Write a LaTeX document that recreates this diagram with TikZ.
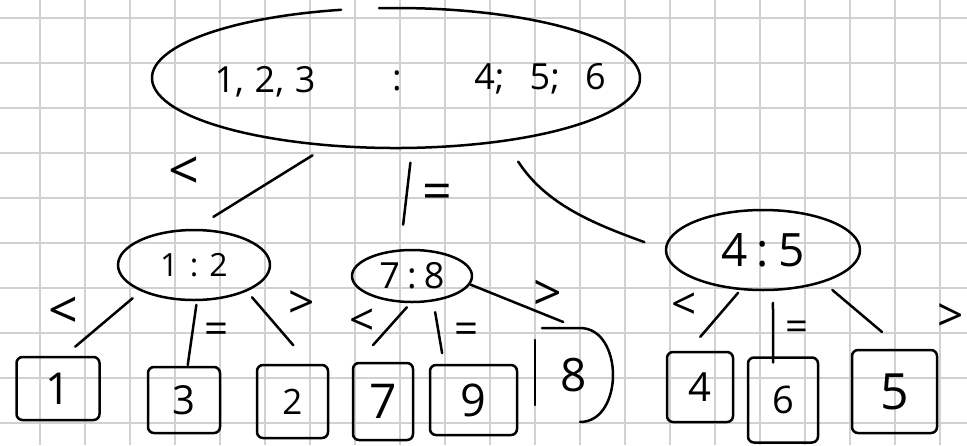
\documentclass[tikz,border=0pt]{standalone}
\usepackage{fontspec}
\setmainfont{Open Sans}
\usetikzlibrary{shapes.geometric,calc}
\newcommand{\fsz}[1]{\fontsize{#1pt}{#1pt}\selectfont}
\begin{document}
\begin{tikzpicture}[x=1pt,y=-1pt,
  gridline/.style={draw=black!18, line width=1.5pt},
  ink/.style={line width=2.5pt, black, line cap=round, line join=round},
  oval/.style={ellipse, inner sep=0pt, outer sep=0pt},
  leaf/.style={rectangle, draw, ink, rounded corners=6pt, inner sep=0pt, outer sep=0pt},
  lbl/.style={inner sep=0pt, outer sep=0pt},
  conn/.style={ink}
]
\useasboundingbox (0,0) rectangle (967,445);
\clip (0,0) rectangle (967,445);
\fill[white] (0,0) rectangle (967,445);
% grid paper
\foreach \gx in {40,85,...,940} \draw[gridline] (\gx,0) -- (\gx,445);
\foreach \gy in {18,63,...,423} \draw[gridline] (0,\gy) -- (967,\gy);

% root
\node[oval, minimum width=488pt, minimum height=140pt] (root) at (396,78) {};
\draw[ink] ($(root.center)+(103:244pt and 70pt)$) arc[start angle=103, end angle=454, x radius=244pt, y radius=70pt];
\node[lbl, anchor=base, font=\fsz{36}] (rootA) at (265,92) {1,\hspace{0.3em}2,\hspace{0.3em}3};
\node[lbl, anchor=base, font=\fsz{36}] (rootB) at (397,90) {:};
\node[lbl, anchor=base, font=\fsz{36}] (rootC) at (540,89) {4;\hspace{0.7em}5;\hspace{0.7em}6};

% second level
\node[oval, draw, ink, minimum width=152pt, minimum height=70pt, font=\fsz{32}] (n12) at (194,265) {1\hspace{0.35em}:\hspace{0.35em}2};
\node[oval, draw, ink, minimum width=120pt, minimum height=52pt, font=\fsz{36}] (n78) at (412,276) {7\hspace{0.2em}:\hspace{0.2em}8};
\node[oval, draw, ink, minimum width=194pt, minimum height=80pt, font=\fsz{46}] (n45) at (763,250) {4\hspace{0.2em}:\hspace{0.2em}5};

% leaves
\node[leaf, minimum width=83pt, minimum height=63pt, font=\fsz{44}] (b1) at (58,388.5) {1};
\node[leaf, minimum width=72pt, minimum height=66pt, font=\fsz{40}] (b3) at (184,400) {3};
\node[leaf, minimum width=71pt, minimum height=73pt, font=\fsz{35}] (b2) at (292.5,401.5) {2};
\node[leaf, minimum width=60pt, minimum height=77pt, font=\fsz{48}] (b7) at (383,401.5) {7};
\node[leaf, minimum width=87pt, minimum height=70pt, font=\fsz{45}] (b9) at (473.5,400) {9};
\node[lbl, minimum width=78pt, minimum height=94pt, font=\fsz{46}] (b8) at (574,375) {8};
\draw[ink] ([yshift=-12pt]b8.north west) -- ([yshift=17pt]b8.south west);
\draw[ink] ([xshift=7pt]b8.north west) -- ([xshift=-33pt]b8.north east) to[out=0,in=90] (b8.east) to[out=-90,in=0] ([xshift=-33pt]b8.south east);
\node[leaf, minimum width=66pt, minimum height=70pt, font=\fsz{40}] (b4) at (700,387) {4};
\node[leaf, minimum width=70pt, minimum height=85pt, font=\fsz{38}] (b6) at (783,400) {6};
\node[leaf, minimum width=85pt, minimum height=83pt, font=\fsz{50}] (b5) at (894.5,391.5) {5};

% connectors
\draw[conn, shorten <=19pt, shorten >=25pt] (root.225) -- (n12.93);
\draw[conn, shorten <=15pt, shorten >=26pt] (root.-77) -- (n78.115);
\draw[conn, shorten <=25pt, shorten >=23pt] (root.-30) to[out=-57,in=160] (n45.west);
\draw[conn, shorten <=12pt, shorten >=16pt] (n12.206) -- (b1.81);
\draw[conn, shorten <=5pt, shorten >=2pt] (n12.-85) -- (b3.84);
\draw[conn, shorten <=9pt, shorten >=26pt] (n12.-26) -- (b2.64);
\draw[conn, shorten <=7pt, shorten >=24pt] (n78.-91) -- (b7.124);
\draw[conn, shorten <=12pt, shorten >=12pt] (n78.-49) -- (b9.130);
\draw[conn, shorten <=1pt, shorten >=16pt] (n78.-8) -- (b8.85);
\draw[conn, shorten <=5pt, shorten >=20pt] (n45.241) -- (b4.110);
\draw[conn, shorten <=13pt, shorten >=-5pt] (n45.-76) -- (b6.103);
\draw[conn, shorten <=13pt, shorten >=28pt] (n45.-28) -- (b5.78);

% edge labels
\node[lbl, font=\fsz{54}] (lr1) at (184,173) {<};
\node[lbl, font=\fsz{52}] (lr2) at (437,197) {=};
\node[lbl, font=\fsz{52}] (la1) at (63,313) {<};
\node[lbl, font=\fsz{42}] (la2) at (217,333) {=};
\node[lbl, font=\fsz{46}] (la3) at (302,305) {>};
\node[lbl, font=\fsz{44}] (lb1) at (362,322) {<};
\node[lbl, font=\fsz{42}] (lb2) at (467,333) {=};
\node[lbl, font=\fsz{50}] (lb3) at (548,295) {>};
\node[lbl, font=\fsz{44}] (lc1) at (684,306) {<};
\node[lbl, font=\fsz{40}] (lc2) at (797,331) {=};
\node[lbl, font=\fsz{46}] (lc3) at (951,318) {>};
\end{tikzpicture}
\end{document}
